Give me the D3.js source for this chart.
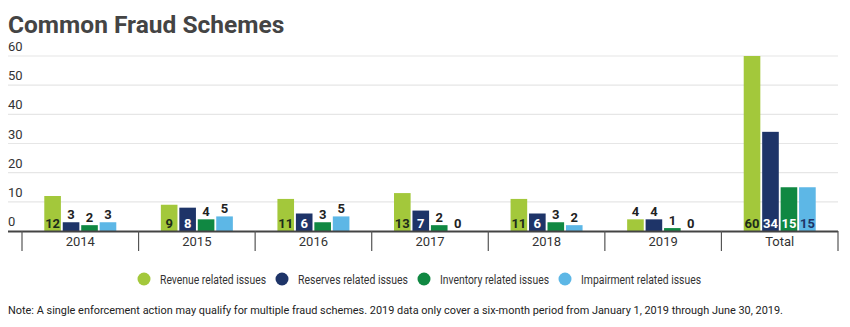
<!DOCTYPE html>
<html>
<head>
<meta charset="utf-8">
<script src="https://cdn.jsdelivr.net/npm/d3@7"></script>
<style>
  body { margin: 0; background: #fff; }
  svg text { font-family: Roboto, "Noto Sans", sans-serif; }
</style>
</head>
<body>
<svg id="chart" width="850" height="327"></svg>
<script>
const categories = ["2014", "2015", "2016", "2017", "2018", "2019", "Total"];
const seriesNames = ["Revenue related issues", "Reserves related issues", "Inventory related issues", "Impairment related issues"];
const revenue    = [12, 9, 11, 13, 11, 4, 60];
const reserves   = [3, 8, 6, 7, 6, 4, 34];
const inventory  = [2, 4, 3, 2, 3, 1, 15];
const impairment = [3, 5, 5, 0, 2, 0, 15];
const yTicks = [0, 10, 20, 30, 40, 50, 60];

const colors = ["#a3c83b", "#1e3468", "#108842", "#5db7e6"];
const insideText = ["#1d2b1a", "#ffffff", "#ffffff", "#1e3468"];
const seriesValues = [revenue, reserves, inventory, impairment];

const svg = d3.select("#chart");

svg.append("text")
  .attr("x", 8).attr("y", 33)
  .attr("fill", "#444")
  .style("font-size", "24.5px")
  .style("font-weight", "bold")
  .text("Common Fraud Schemes");

const x = d3.scaleBand().domain(categories).range([22, 838]);
const x1 = d3.scaleBand().domain(seriesNames).range([0, 72]).paddingInner(0.1);
const y = d3.scaleLinear().domain([0, 60]).range([231, 56]);

// gridlines and y labels
const grid = svg.append("g");
grid.selectAll("line").data(yTicks.filter(t => t > 0)).join("line")
  .attr("x1", 8).attr("x2", 838)
  .attr("y1", d => y(d)).attr("y2", d => y(d))
  .attr("stroke", "#e6e6e6").attr("stroke-width", 1.2);
grid.selectAll("text").data(yTicks).join("text")
  .attr("x", 8).attr("y", d => y(d) - 5)
  .attr("fill", "#333")
  .style("font-size", "13px")
  .text(d => d);

// bars
const groups = svg.append("g").selectAll("g").data(categories).join("g")
  .attr("transform", d => `translate(${x(d) + (x.bandwidth() - 72) / 2},0)`);

groups.each(function (cat, ci) {
  const g = d3.select(this);
  seriesNames.forEach((s, si) => {
    const v = seriesValues[si][ci];
    g.append("rect")
      .attr("x", x1(s)).attr("width", x1.bandwidth())
      .attr("y", y(v)).attr("height", y(0) - y(v))
      .attr("fill", colors[si]);
    const inside = v >= 6;
    g.append("text")
      .attr("x", x1(s) + x1.bandwidth() / 2)
      .attr("y", inside ? y(0) - 3 : y(v) - 3)
      .attr("text-anchor", "middle")
      .attr("fill", inside ? insideText[si] : "#222")
      .style("font-size", "13px")
      .style("font-weight", "bold")
      .text(v);
  });
});

// axis line, dividers, category labels
svg.append("line")
  .attr("x1", 8).attr("x2", 838).attr("y1", 231.5).attr("y2", 231.5)
  .attr("stroke", "#444").attr("stroke-width", 2);
const dividers = categories.map(c => x(c)).concat([x.range()[1]]);
svg.append("g").selectAll("line").data(dividers).join("line")
  .attr("x1", d => d).attr("x2", d => d)
  .attr("y1", 231).attr("y2", 251)
  .attr("stroke", "#555").attr("stroke-width", 1.2);
svg.append("g").selectAll("text").data(categories).join("text")
  .attr("x", d => x(d) + x.bandwidth() / 2)
  .attr("y", 245.5)
  .attr("text-anchor", "middle")
  .attr("fill", "#333")
  .style("font-size", "13px")
  .text(d => d);

// legend
const legendX = [144, 282, 424, 565];
const legendW = [106, 110, 109, 120];
const legend = svg.append("g").selectAll("g").data(seriesNames).join("g")
  .attr("transform", (d, i) => `translate(${legendX[i]},279)`);
legend.append("circle").attr("r", 6.5).attr("fill", (d, i) => colors[i]);
legend.append("text")
  .attr("x", 16).attr("y", 4.5)
  .attr("fill", "#333")
  .style("font-size", "12.5px")
  .attr("textLength", (d, i) => legendW[i])
  .attr("lengthAdjust", "spacingAndGlyphs")
  .text(d => d);

svg.append("text")
  .attr("x", 8).attr("y", 313.5)
  .attr("fill", "#222")
  .style("font-size", "11px")
  .attr("textLength", 775)
  .attr("lengthAdjust", "spacingAndGlyphs")
  .text("Note: A single enforcement action may qualify for multiple fraud schemes. 2019 data only cover a six-month period from January 1, 2019 through June 30, 2019.");
</script>
</body>
</html>
